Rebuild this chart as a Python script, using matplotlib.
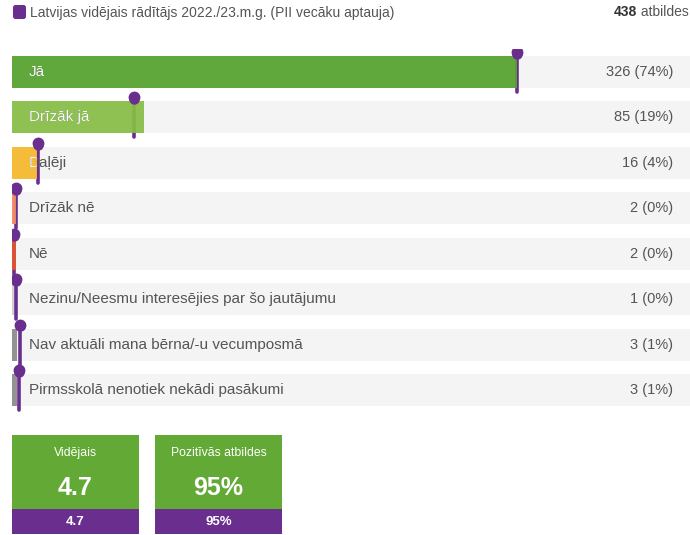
import matplotlib
matplotlib.use("Agg")
import matplotlib.pyplot as plt
from matplotlib.patches import FancyBboxPatch, Rectangle
import numpy as np

plt.rcParams['font.family'] = ['Liberation Sans', 'DejaVu Sans']

categories = ["Jā", "Drīzāk jā", "Daļēji", "Drīzāk nē", "Nē",
              "Nezinu/Neesmu interesējies par šo jautājumu",
              "Nav aktuāli mana bērna/-u vecumposmā",
              "Pirmsskolā nenotiek nekādi pasākumi"]
counts = [326, 85, 16, 2, 2, 1, 3, 3]
percent_labels = ["74%", "19%", "4%", "0%", "0%", "0%", "1%", "1%"]
latvia_avg = [0.745, 0.180, 0.038, 0.006, 0.003, 0.006, 0.012, 0.010]
total = 438
bar_colors = ["#55a22d", "#86be45", "#f6b82c", "#ef8a62", "#e0552f",
              "#cfcfcf", "#8c8c8c", "#8c8c8c"]
legend_text = "Latvijas vidējais rādītājs 2022./23.m.g. (PII vecāku aptauja)"
card_titles = ["Vidējais", "Pozitīvās atbildes"]
card_values = ["4.7", "95%"]
card_bench = ["4.7", "95%"]

W, H = 690, 535
fig = plt.figure(figsize=(W / 100, H / 100), dpi=100)
PURPLE = "#6a2f8e"
TEXT = "#555555"

# overlay axes in pixel coordinates
ov = fig.add_axes([0, 0, 1, 1])
ov.set_xlim(0, W)
ov.set_ylim(H, 0)
ov.axis("off")

# bar axes
x0, x1 = 12, 690
row0, rowstep = 72, 45.43
n = len(categories)
top_px = row0 - rowstep / 2
bot_px = row0 + (n - 1) * rowstep + rowstep / 2
ax = fig.add_axes([x0 / W, 1 - bot_px / H, (x1 - x0) / W, (bot_px - top_px) / H])
ax.set_xlim(0, 1)
ax.set_ylim(n - 0.5, -0.5)
ax.axis("off")
ax.set_zorder(2)

bh = 32 / rowstep
y = np.arange(n)
shares = np.array(counts) / total
minw = 4 / (x1 - x0)
widths = np.maximum(shares, minw)
widths[5] = 2 / (x1 - x0)

# tracks
ax.barh(y, np.ones(n), height=bh, color="#f4f4f4", zorder=0)

# purple average lines (behind bars)
for i in range(n):
    ax.plot([latvia_avg[i], latvia_avg[i]], [i - 0.42, i + 0.44],
            color=PURPLE, lw=2.6, solid_capstyle="round", zorder=1)
    ax.plot([latvia_avg[i]], [i - 0.44], marker="o", ms=7.5, color=PURPLE,
            mec=PURPLE, zorder=5)
    ax.plot([latvia_avg[i]], [i - 0.40], marker="o", ms=6.5, color=PURPLE,
            mec=PURPLE, zorder=5)

bars = ax.barh(y, widths, height=bh, color=bar_colors, alpha=0.93, zorder=2)

lx = 17 / (x1 - x0)
for i, (c, b) in enumerate(zip(categories, bars)):
    ax.text(lx, i, c, color=TEXT, fontsize=11, va="center", ha="left", zorder=3)
    t = ax.text(lx, i, c, color="white", fontsize=11, va="center", ha="left", zorder=4)
    t.set_clip_path(b)
    t.set_clip_on(True)
    ax.text(1 - 17 / (x1 - x0), i, f"{counts[i]} ({percent_labels[i]})", color=TEXT,
            fontsize=10.5, va="center", ha="right", zorder=3)

# header legend
ov.add_patch(FancyBboxPatch((13, 5), 13, 14, boxstyle="round,pad=0,rounding_size=2.5",
                            fc=PURPLE, ec="none"))
ov.text(30, 12.5, legend_text, color=TEXT, fontsize=10, va="center", ha="left")
t2 = ov.text(689, 12.5, " atbildes", color=TEXT, fontsize=10, va="center", ha="right")
fig.canvas.draw()
bb = t2.get_window_extent()
xleft = ov.transData.inverted().transform((bb.x0, bb.y0))[0]
ov.text(xleft, 12.5, str(total), color="#333333", fontsize=10, fontweight="bold",
        va="center", ha="right")

# cards
GREEN = "#62a935"
for k in range(2):
    cx = 12 + k * 143
    ov.add_patch(Rectangle((cx, 435), 127, 74, fc=GREEN, ec="none"))
    ov.add_patch(Rectangle((cx, 509), 127, 25, fc=PURPLE, ec="none"))
    ov.text(cx + 63.5, 453, card_titles[k], color="white", fontsize=8.8, ha="center", va="center")
    ov.text(cx + 63.5, 488, card_values[k], color="white", fontsize=18, fontweight="bold",
            ha="center", va="center")
    ov.text(cx + 63.5, 522, card_bench[k], color="white", fontsize=9.5, fontweight="bold",
            ha="center", va="center")

fig.savefig("out.png", dpi=100)
